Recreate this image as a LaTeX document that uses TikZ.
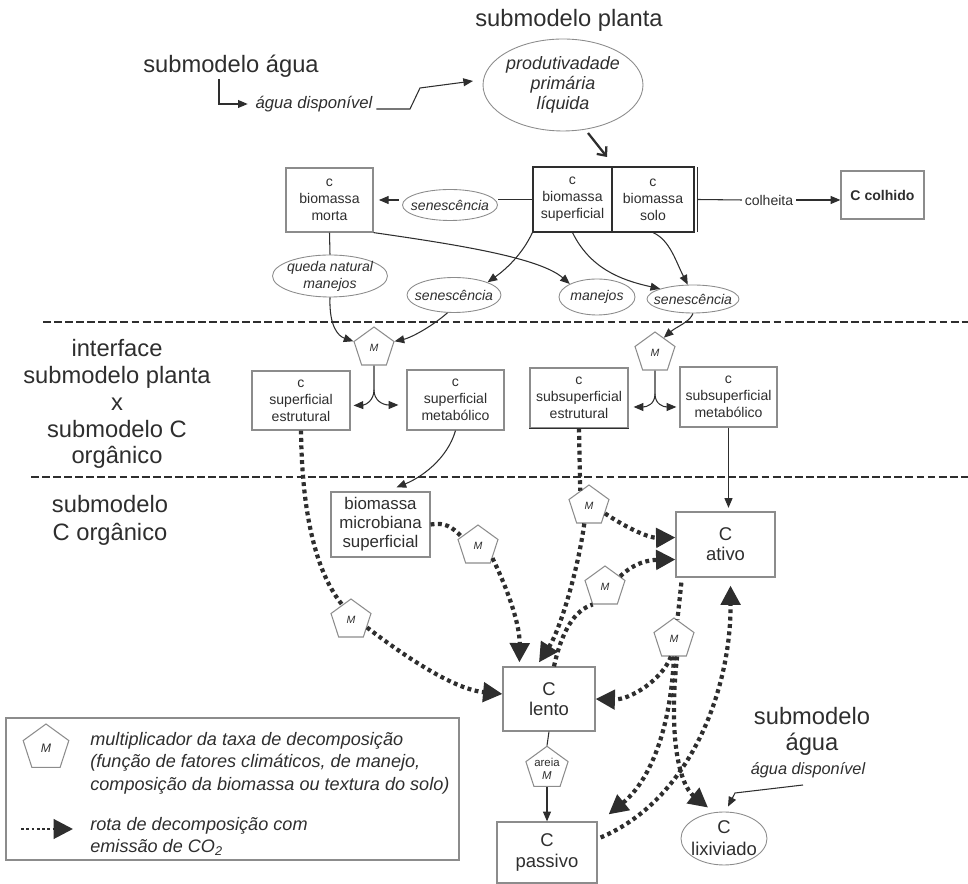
\documentclass[tikz,border=0pt]{standalone}
\usepackage{fontspec}
\setmainfont{Liberation Sans}
\usetikzlibrary{shapes.geometric,arrows.meta,calc}
\definecolor{ink}{HTML}{2E2E2E}
\definecolor{edge}{HTML}{8C8C8C}
\newcommand\setfs[2]{\fontsize{#1}{#2}\selectfont}
\begin{document}
\begin{tikzpicture}[x=0.02cm,y=-0.02cm,
  every node/.style={text=ink},
  box/.style={rectangle, draw=edge, line width=0.7pt, align=center, inner sep=0pt, font=\setfs{8}{9.6}},
  oval/.style={ellipse, draw=edge, line width=0.5pt, inner xsep=-4pt, inner ysep=-1.5pt, align=center, font=\setfs{8}{9.6}\itshape},
  pent/.style={regular polygon, regular polygon sides=5, draw=edge, line width=0.6pt, minimum size=0.84cm, inner sep=0pt, align=center, font=\setfs{6}{7}\itshape},
  big/.style={font=\setfs{13.5}{15.3}, align=center, inner sep=0pt},
  thinarr/.style={draw=ink, line width=0.6pt, -{Triangle[length=5.5pt,width=4.5pt]}},
  plain/.style={draw=ink, line width=0.6pt},
  decomp/.style={draw=ink, line width=2.4pt, dash pattern=on 2.2pt off 2pt},
  decarr/.style={decomp, -{Triangle[length=11pt,width=11pt]}},
  sepline/.style={draw=ink, line width=0.9pt, dash pattern=on 4.5pt off 1.8pt}
]
\useasboundingbox (0,0) rectangle (968,884);

% ---------- top ----------
\node[big] (tplanta) at (569,20) {submodelo planta};
\node[big] (tagua) at (231,66) {submodelo água};
\node[font=\setfs{9.5}{11}\itshape, inner sep=2pt] (adisp) at (314,104) {água disponível};
\node[oval, minimum width=3.2cm, minimum height=1.84cm, font=\setfs{10.2}{11.3}\itshape] (ppl) at (563,85) {produtivadade\\primária\\líquida};

\coordinate (aguaTail) at (219,79);
\coordinate (k1) at (410,109);
\coordinate (k2) at (420,88);
\coordinate (pplIn) at (473,81);
\draw[thinarr] (aguaTail) |- ($(adisp.west)+(-4,0)$);
\draw[thinarr] (adisp.east |- k1) -- (k1) -- (k2) -- (pplIn);

\coordinate (pa) at (588,133);
\coordinate (pb) at (607,157);
\draw[draw=ink, line width=1.3pt, -{Straight Barb[length=4pt,width=7pt]}] (pa) -- (pb);

% ---------- plant boxes ----------
\node[box, minimum width=1.74cm, minimum height=1.28cm] (morta) at (329.5,200) {c\\biomassa\\morta};
\node[box, draw=ink, minimum width=1.58cm, minimum height=1.30cm] (bsup) at (572.5,199.5) {c\\biomassa\\superficial};
\node[box, draw=ink, minimum width=1.64cm, minimum height=1.30cm] (bsolo) at (653,199.5) {c\\biomassa\\solo};
\draw[draw=ink, line width=0.7pt] ($(bsolo.north east)+(3,1)$) -- ($(bsolo.south east)+(3,-1)$);
\node[box, minimum width=1.66cm, minimum height=0.96cm, font=\setfs{8}{9.6}\bfseries] (colhido) at (882.5,195) {C colhido};
\node[oval, minimum width=1.9cm, minimum height=0.62cm] (sen1) at (450,205) {senescência};
\node[font=\setfs{8}{9.6}, inner sep=1.5pt] (colh) at (769,200) {colheita};

\draw[plain] (bsup.west) -- (bsup.west -| sen1.east);
\draw[thinarr, shorten <=2pt, shorten >=3pt] (sen1.west |- morta.east) -- (morta.east);
\draw[plain] (bsolo.east) ++(3,0) -- (colh.west);
\draw[thinarr] (colh.east) -- (colh.east -| colhido.west);

\node[oval, minimum width=2.3cm, minimum height=0.84cm] (queda) at (330,276) {queda natural\\manejos};
\node[oval, minimum width=1.88cm, minimum height=0.70cm] (sen2) at (454,295) {senescência};
\node[oval, minimum width=1.52cm, minimum height=0.72cm] (manejos) at (597,297) {manejos};
\node[oval, minimum width=1.84cm, minimum height=0.56cm] (sen3) at (693,299) {senescência};

\draw[plain] (morta.south) -- (queda.north);
\draw[thinarr] (bsup.south west) .. controls (522,255) and (505,270) .. (sen2.north east);
\draw[thinarr] (morta.south east) .. controls (460,245) and (540,258) .. (manejos.north west);
\draw[thinarr] (bsup.south) .. controls (590,268) and (620,280) .. (sen3.north west);
\draw[thinarr] (bsolo.south) .. controls (670,240) and (676,262) .. (sen3.110);

% ---------- separators ----------
\coordinate (s1a) at (43,322);
\coordinate (s1b) at (968,322);
\coordinate (s2a) at (31,477);
\coordinate (s2b) at (968,477);
\draw[sepline] (s1a) -- (s1b);
\draw[sepline] (s2a) -- (s2b);

% ---------- left labels ----------
\node[big] (lint) at (117,404) {interface\\submodelo planta\\x\\submodelo C\\orgânico};
\node[big, font=\setfs{13.5}{15.8}] (lorg) at (110,520) {submodelo\\C orgânico};

% ---------- interface ----------
\node[pent] (M1) at (374,348) {M};
\node[pent] (M2) at (655,353) {M};
\node[box, minimum width=1.96cm, minimum height=1.18cm] (sestr) at (301,400.5) {c\\superficial\\estrutural};
\node[box, minimum width=1.94cm, minimum height=1.20cm] (smeta) at (455.5,400) {c\\superficial\\metabólico};
\node[box, minimum width=1.96cm, minimum height=1.20cm] (ssestr) at (579,398) {c\\subsuperficial\\estrutural};
\draw[draw=ink, line width=0.9pt] (ssestr.south west) -- (ssestr.south east);
\node[box, minimum width=1.94cm, minimum height=1.20cm] (ssmeta) at (728.5,397) {c\\subsuperficial\\metabólico};

\draw[thinarr] (queda.south) .. controls (329,326) and (338,336) .. (M1.corner 2);
\draw[thinarr] (sen2.250) .. controls (430,328) and (410,338) .. (M1.corner 5);
\coordinate (m1b) at (374,390);
\draw[plain] (M1.south) -- (m1b);
\draw[thinarr] (m1b) .. controls (374,400) and (366,405) .. ($(sestr.east)+(3,5)$);
\draw[thinarr] (m1b) .. controls (374,400) and (382,405) .. ($(smeta.west)+(-8,5)$);

\draw[thinarr] (sen3.south) .. controls (690,322) and (676,327) .. (M2.60);
\coordinate (m2b) at (655,394);
\draw[plain] (M2.south) -- (m2b);
\draw[thinarr] (m2b) .. controls (655,404) and (647,407) .. ($(ssestr.east)+(5,9)$);
\draw[thinarr] (m2b) .. controls (655,404) and (663,407) .. ($(ssmeta.west)+(-3,10)$);

% ---------- organic C ----------
\node[box, minimum width=1.98cm, minimum height=1.30cm, font=\setfs{9.6}{10.8}] (micro) at (380.5,524.5) {biomassa\\microbiana\\superficial};
\node[box, minimum width=1.98cm, minimum height=1.30cm, font=\setfs{10.5}{11.3}] (ativo) at (725.5,544.5) {C\\ativo};
\node[box, minimum width=1.84cm, minimum height=1.28cm, font=\setfs{10.5}{11.3}] (lento) at (549,699) {C\\lento};
\node[box, minimum width=2.0cm, minimum height=1.22cm, font=\setfs{10.5}{12.3}] (passivo) at (547,852.5) {C\\passivo};
\node[oval, inner sep=-1.5pt, minimum width=1.72cm, minimum height=1.06cm, font=\setfs{10.5}{12.5}] (lix) at (724,838.5) {C\\lixiviado};

\node[pent] (M3) at (351,620) {M};
\node[pent] (M4) at (478,546) {M};
\node[pent] (M5) at (589,506) {M};
\node[pent] (M6) at (605,587) {M};
\node[pent] (M7) at (674,639) {M};
\node[pent, minimum size=0.82cm, font=\setfs{6.5}{7.5}] (Ma) at (547,768.5) {areia\\\textit{M}};

\draw[thinarr] (smeta.south) .. controls (447,460) and (420,478) .. ($(micro.north)+(16,-4)$);
\draw[thinarr, shorten >=2pt] (ssmeta.south) -- (ssmeta.south |- ativo.north);
\draw[plain] (lento.south) -- (Ma.north);
\draw[thinarr] (Ma.south) -- (Ma.south |- passivo.north);

% decomposition routes
\draw[decomp] (sestr.south) .. controls (302,520) and (318,575) .. (M3.120);
\draw[decarr] (M3.-25) .. controls (420,668) and (460,690) .. ($(lento.west)+(0,-5)$);

\draw[decomp] (micro.east) .. controls (445,522) and (452,527) .. (M4.150);
\draw[decarr] (M4.-40) .. controls (508,590) and (520,625) .. ($(lento.north west)+(17,-4)$);

\draw[decomp] (ssestr.south) -- (M5.120);
\draw[decarr] (M5.-25) .. controls (630,530) and (650,538) .. ($(ativo.west)+(0,-7)$);
\draw[decarr] (M5.-105) .. controls (578,570) and (560,630) .. ($(lento.north)+(-10,-4)$);

\draw[decomp] ($(lento.north)+(5,0)$) .. controls (562,630) and (575,610) .. (M6.-125);
\draw[decarr] (M6.35) .. controls (635,562) and (650,560) .. ($(ativo.west)+(0,15)$);

\draw[decomp] ($(ativo.south west)+(6,5)$) -- (M7.80);
\draw[decarr] (M7.-100) .. controls (662,680) and (630,700) .. (lento.east);
\draw[decarr] (M7.-90) .. controls (670,740) and (645,785) .. ($(passivo.north east)+(11,-7)$);
\draw[decarr] (M7.-80) .. controls (668,740) and (680,785) .. ($(lix.north)+(-16,-4)$);

\draw[decarr] ($(passivo.east)+(3,-15)$) .. controls (690,800) and (731,690) .. ($(ativo.south)+(5,8)$);

% ---------- right water submodel ----------
\node[big, font=\setfs{13.5}{14.7}] (sa2) at (812,731) {submodelo\\água};
\node[font=\setfs{9.3}{11}\itshape, inner sep=1pt] (ad2) at (808,770) {água disponível};
\coordinate (w1) at (803,785);
\coordinate (w2) at (735,793);
\draw[thinarr] (w1) -- (w2) -- ($(lix.north)+(4,-5)$);

% ---------- legend ----------
\node[draw=edge, line width=0.7pt, minimum width=9.06cm, minimum height=2.84cm, inner sep=0pt] (leg) at (232.5,789) {};
\node[pent, minimum size=0.96cm, font=\setfs{7}{8}\itshape] (legM) at (46,748) {M};
\node[anchor=west, align=left, font=\setfs{10.3}{12.8}\itshape, inner sep=0pt] (legt1) at (90,763) {multiplicador da taxa de decomposição\\(função de fatores climáticos, de manejo,\\composição da biomassa ou textura do solo)};
\coordinate (la) at (21,829);
\coordinate (lb) at (73,829);
\draw[decarr, line width=1.7pt, dash pattern=on 1.6pt off 1.4pt] (la) -- (lb);
\node[anchor=west, align=left, font=\setfs{10.3}{12.8}\itshape, inner sep=0pt] (legt2) at (90,836.5) {rota de decomposição com\\emissão de CO\textsubscript{2}};
\end{tikzpicture}
\end{document}
